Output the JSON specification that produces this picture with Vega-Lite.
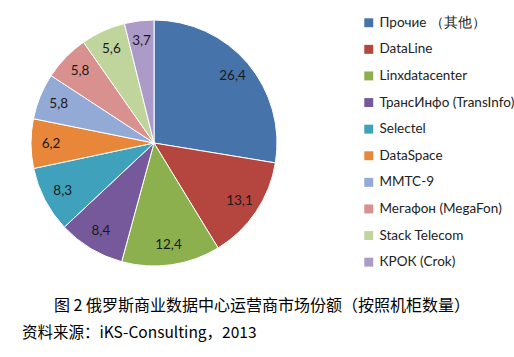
{
  "$schema": "https://vega.github.io/schema/vega-lite/v6.json",
  "autosize": {"type": "none"},
  "width": 308,
  "height": 286,
  "padding": {"left": 0, "top": 0, "right": 206, "bottom": 71},
  "background": "white",
  "config": {
    "view": {"stroke": null},
    "locale": {"number": {"decimal": ",", "thousands": " ", "grouping": [3], "currency": ["", ""]}}
  },
  "title": {
    "text": "\u200b\u3000\u3000图 2 俄罗斯商业数据中心运营商市场份额（按照机柜数量）",
    "subtitle": "资料来源：iKS-Consulting，2013",
    "orient": "bottom",
    "anchor": "start",
    "dx": 22,
    "offset": 12,
    "font": "Noto Sans CJK SC",
    "fontSize": 16,
    "fontWeight": "normal",
    "color": "#000000",
    "subtitleFont": "Noto Sans CJK SC",
    "subtitleFontSize": 15.5,
    "subtitleColor": "#000000",
    "subtitlePadding": 12
  },
  "data": {
    "values": [
      {"company": "Прочие （其他）", "share": 26.4, "idx": 1},
      {"company": "DataLine", "share": 13.1, "idx": 2},
      {"company": "Linxdatacenter", "share": 12.4, "idx": 3},
      {"company": "ТрансИнфо (TransInfo)", "share": 8.4, "idx": 4},
      {"company": "Selectel", "share": 8.3, "idx": 5},
      {"company": "DataSpace", "share": 6.2, "idx": 6},
      {"company": "MMTC-9", "share": 5.8, "idx": 7},
      {"company": "Мегафон (MegaFon)", "share": 5.8, "idx": 8},
      {"company": "Stack Telecom", "share": 5.6, "idx": 9},
      {"company": "КРОК (Crok)", "share": 3.7, "idx": 10}
    ]
  },
  "encoding": {
    "theta": {"field": "share", "type": "quantitative", "stack": true},
    "order": {"field": "idx", "type": "quantitative"}
  },
  "layer": [
    {
      "mark": {"type": "arc", "outerRadius": 123, "stroke": "white", "strokeWidth": 1},
      "encoding": {
        "color": {
          "field": "company",
          "type": "nominal",
          "sort": null,
          "scale": {
            "domain": ["Прочие （其他）", "DataLine", "Linxdatacenter", "ТрансИнфо (TransInfo)", "Selectel", "DataSpace", "MMTC-9", "Мегафон (MegaFon)", "Stack Telecom", "КРОК (Crok)"],
            "range": ["#4673AA", "#B4463F", "#8DB04E", "#76599B", "#3FA1BC", "#E8873A", "#93A9D6", "#D9918F", "#BFD59B", "#AC9AC8"]
          },
          "legend": {
            "title": null,
            "orient": "none",
            "legendX": 362,
            "legendY": 16,
            "symbolType": "square",
            "symbolSize": 80,
            "symbolStrokeWidth": 0,
            "labelFont": "Lato",
            "labelFontSize": 13.5,
            "labelColor": "#222222",
            "labelOffset": 4,
            "rowPadding": 11.6,
            "labelLimit": 220
          }
        }
      }
    },
    {
      "mark": {"type": "text", "radius": 103, "font": "Lato", "fontSize": 13.5, "color": "#1a1a1a"},
      "encoding": {
        "text": {"field": "share", "type": "quantitative", "format": ".1f"}
      }
    }
  ]
}
